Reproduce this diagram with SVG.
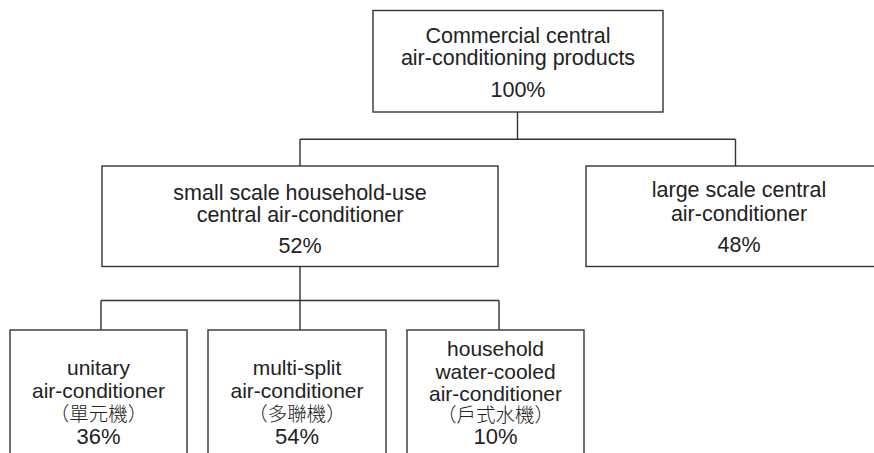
<svg xmlns="http://www.w3.org/2000/svg" width="874" height="453" viewBox="0 0 874 453">
<style>
.box{fill:#fff;stroke:#333;stroke-width:1.4}
.ln{fill:none;stroke:#333;stroke-width:1.4}
text{font-family:"Liberation Sans",Arial,sans-serif;fill:#222;text-anchor:middle}
.t{font-size:21.5px}
.s{font-size:21px}
.p{font-size:22px}
.c{font-family:"Liberation Sans","Noto Sans CJK TC",sans-serif;font-size:19.5px;font-weight:300}
</style>
<rect width="874" height="453" fill="#fff"/>
<g id="connectors">
<path class="ln" d="M517.5,112 V139.3 M300,139.3 H735.5 M300,139.3 V166 M735.5,139.3 V166"/>
<path class="ln" d="M300,266.5 V300.5 M101,300.5 H499 M101,300.5 V330 M300,300.5 V330 M499,300.5 V330"/>
</g>
<g id="root">
<rect class="box" x="373" y="10.5" width="290" height="101.5"/>
<text class="t" x="518" y="43">Commercial central</text>
<text class="t" x="518" y="65">air-conditioning products</text>
<text class="t" x="518" y="96.7">100%</text>
</g>
<g id="small">
<rect class="box" x="102" y="166" width="396" height="100.5"/>
<text class="t" x="300" y="199.7">small scale household-use</text>
<text class="t" x="300" y="221.7">central air-conditioner</text>
<text class="t" x="300" y="253">52%</text>
</g>
<g id="large">
<rect class="box" x="586" y="166" width="310" height="100.5"/>
<text class="t" x="739" y="197">large scale central</text>
<text class="t" x="739" y="220.7">air-conditioner</text>
<text class="t" x="739" y="252">48%</text>
</g>
<g id="unitary">
<rect class="box" x="10" y="330" width="177" height="140"/>
<text class="s" x="98.5" y="375">unitary</text>
<text class="s" x="98.5" y="398">air-conditioner</text>
<text class="c" x="98.5" y="421">（單元機）</text>
<text class="p" x="98.5" y="443.5">36%</text>
</g>
<g id="multisplit">
<rect class="box" x="208" y="330" width="178" height="140"/>
<text class="s" x="297" y="375">multi-split</text>
<text class="s" x="297" y="398">air-conditioner</text>
<text class="c" x="297" y="421">（多聯機）</text>
<text class="p" x="297" y="443.5">54%</text>
</g>
<g id="watercooled">
<rect class="box" x="407" y="330" width="177" height="140"/>
<text class="s" x="495.5" y="356">household</text>
<text class="s" x="495.5" y="378.5">water-cooled</text>
<text class="s" x="495.5" y="400.5">air-conditioner</text>
<text class="c" x="495.5" y="421.5">（戶式水機）</text>
<text class="p" x="495.5" y="443.5">10%</text>
</g>
</svg>
